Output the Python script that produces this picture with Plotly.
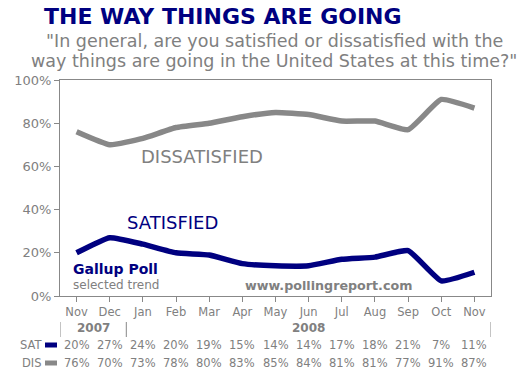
import plotly.graph_objects as go

months = ["Nov", "Dec", "Jan", "Feb", "Mar", "Apr", "May", "Jun", "Jul", "Aug", "Sep", "Oct", "Nov"]
satisfied = [20, 27, 24, 20, 19, 15, 14, 14, 17, 18, 21, 7, 11]
dissatisfied = [76, 70, 73, 78, 80, 83, 85, 84, 81, 81, 77, 91, 87]
y_ticks = [0, 20, 40, 60, 80, 100]
years = [("2007", 0, 1), ("2008", 2, 12)]

NAVY = "#000080"
GRAY = "#888888"
TXT = "#808080"
FONT = "DejaVu Sans"

xs = list(range(len(months)))

fig = go.Figure()
fig.add_trace(go.Scatter(x=xs, y=dissatisfied, mode="lines",
                         line=dict(color=GRAY, width=5.5, shape="spline", smoothing=0.4),
                         hoverinfo="skip"))
fig.add_trace(go.Scatter(x=xs, y=satisfied, mode="lines",
                         line=dict(color=NAVY, width=5.5, shape="spline", smoothing=0.4),
                         hoverinfo="skip"))

# plot area in reference pixels: x 60..491.5, y 80..296
PW, PH = 431.5, 216.0
def px(pix):
    return (pix - 60) / PW
def py(pix):
    return (296 - pix) / PH

def text(t, x, y, size, color, anchor="center", xref="paper"):
    return dict(text=t, xref=xref, yref="paper", x=x, y=y, xanchor=anchor, yanchor="middle",
                showarrow=False, font=dict(family=FONT, size=size, color=color))

annotations = [
    text("<b>THE WAY THINGS ARE GOING</b>", px(42), py(16), 22, NAVY, "left"),
    text("\"In general, are you satisfied or dissatisfied with the", px(275), py(41), 17.5, TXT),
    text("way things are going in the United States at this time?\"", px(274), py(61), 17.5, TXT),
    text("DISSATISFIED", px(202), py(156), 18, TXT),
    text("SATISFIED", px(173), py(222), 18, NAVY),
    text("<b>Gallup Poll</b>", px(71), py(269), 14, NAVY, "left"),
    text("selected trend", px(71), py(285), 12, TXT, "left"),
    text("<b>www.pollingreport.com</b>", px(329), py(285), 12.7, TXT),
]

shapes = []
for label, i0, i1 in years:
    annotations.append(text("<b>%s</b>" % label, (i0 + i1) / 2.0, py(328), 12, TXT, xref="x"))
    shapes.append(dict(type="line", xref="x", yref="paper", x0=i0 - 0.5, x1=i0 - 0.5,
                       y0=py(322), y1=py(337), line=dict(color=GRAY, width=1)))
shapes.append(dict(type="line", xref="x", yref="paper", x0=len(months) - 0.5, x1=len(months) - 0.5,
                   y0=py(322), y1=py(337), line=dict(color=GRAY, width=1)))

for name, vals, color, ypix in [("SAT", satisfied, NAVY, 345), ("DIS", dissatisfied, GRAY, 363)]:
    annotations.append(text(name, px(44), py(ypix), 11.5, TXT, "right"))
    shapes.append(dict(type="line", xref="paper", yref="paper", x0=px(45), x1=px(57),
                       y0=py(ypix), y1=py(ypix), line=dict(color=color, width=5)))
    for i, v in enumerate(vals):
        annotations.append(text("%d%%" % v, i, py(ypix), 11.5, TXT, xref="x"))

fig.update_layout(
    width=530, height=373,
    margin=dict(l=60, r=38.5, t=80, b=77, autoexpand=False),
    paper_bgcolor="white", plot_bgcolor="white",
    showlegend=False,
    annotations=annotations,
    shapes=shapes,
    xaxis=dict(range=[-0.5, len(months) - 0.5], tickmode="array", tickvals=xs, ticktext=months,
               showgrid=False, zeroline=False, showline=True, linecolor=GRAY, linewidth=1,
               mirror=True, ticks="outside", ticklen=5, tickcolor=GRAY, automargin=False,
               tickfont=dict(family=FONT, size=11.5, color=TXT), fixedrange=True),
    yaxis=dict(range=[0, 100], tickmode="array", tickvals=y_ticks,
               ticktext=["%d%%" % t for t in y_ticks],
               showgrid=False, zeroline=False, showline=True, linecolor=GRAY, linewidth=1,
               mirror=True, ticks="outside", ticklen=5, tickcolor=GRAY, automargin=False,
               tickfont=dict(family=FONT, size=13, color=TXT), fixedrange=True),
)

# remove the page's default body margin so the figure sits at the window's top-left corner
fig.write_html("out.html",
               config={"displayModeBar": False},
               post_script="document.body.style.margin='0';document.body.style.overflow='hidden';")
